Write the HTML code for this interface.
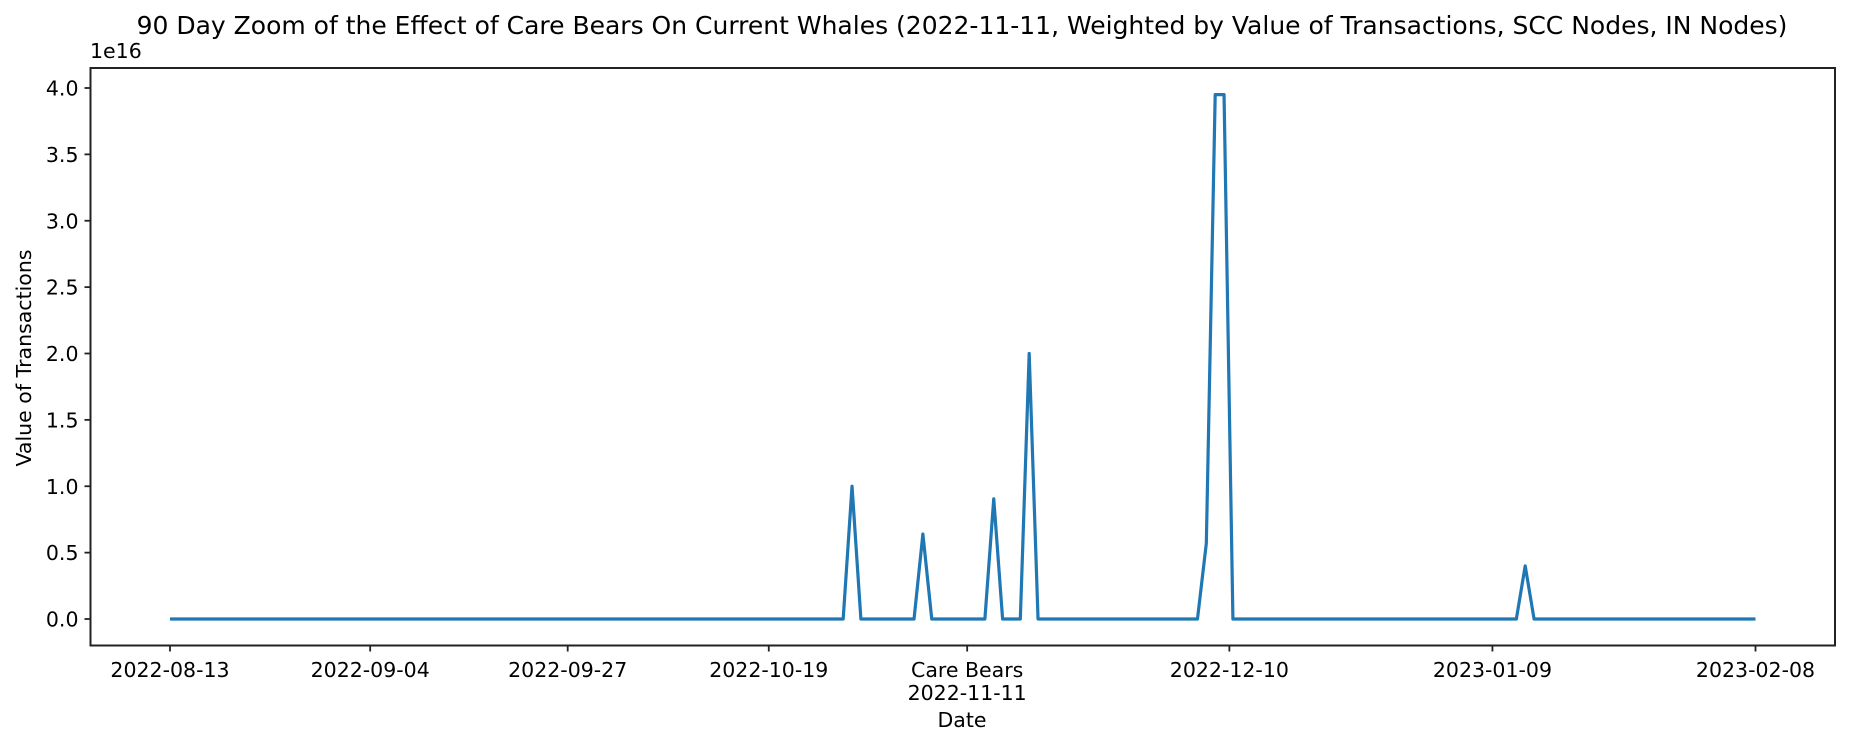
<!DOCTYPE html>
<html><head><meta charset="utf-8"><style>
html,body{margin:0;padding:0;background:#fff;}
svg{display:block;font-family:"DejaVu Sans","Liberation Sans",sans-serif;}
</style></head><body>
<svg id="chart" width="1849" height="747" viewBox="0 0 1849 747">
<text x="962" y="34" font-size="25" text-anchor="middle" fill="#000">90 Day Zoom of the Effect of Care Bears On Current Whales (2022-11-11, Weighted by Value of Transactions, SCC Nodes, IN Nodes)</text>
<text x="90" y="58" font-size="20.5" fill="#000">1e16</text>
<text transform="translate(31,358) rotate(-90)" font-size="20.5" text-anchor="middle" fill="#000">Value of Transactions</text>
<text x="962" y="727" font-size="20.5" text-anchor="middle" fill="#000">Date</text>
<g id="yticks"></g><g id="xticks"></g><g id="plot"></g>
<rect id="frame" x="90.5" y="68" width="1744.5" height="577.5" fill="none" stroke="#222" stroke-width="2"/>
</svg>
<script>
const yTicks = [0, 0.5, 1.0, 1.5, 2.0, 2.5, 3.0, 3.5, 4.0];
const yTickLabels = ["0.0","0.5","1.0","1.5","2.0","2.5","3.0","3.5","4.0"];
const xTickDays = [0, 22.6, 44.9, 67.6, 90, 119.6, 149.3, 179];
const xTickLabels = ["2022-08-13","2022-09-04","2022-09-27","2022-10-19","Care Bears|2022-11-11","2022-12-10","2023-01-09","2023-02-08"];
const numDays = 180;
const spikeDays = [77, 85, 93, 97, 117, 118, 119, 153];
const spikeValues = [1.0, 0.64, 0.905, 2.0, 0.57, 3.95, 3.95, 0.40];

const L=90.5, R=1835, T=68, B=645.5;
const NS="http://www.w3.org/2000/svg";
function xS(d){ return 170 + d*(1755.5-170)/179; }
function yS(v){ return 619 - v*(619-88)/4; }
function mk(tag, attrs, parent){ const e=document.createElementNS(NS,tag); for(const k in attrs) e.setAttribute(k,attrs[k]); parent.appendChild(e); return e; }
const yg=document.getElementById('yticks');
yTicks.forEach((v,i)=>{
  const y=yS(v);
  const t=mk('line',{x1:L-6,x2:L,y1:y,y2:y,stroke:'#222','stroke-width':1.8},yg);
  
  
  const tx=mk('text',{x:L-12,y:y+7.5,'font-size':20.5,'text-anchor':'end',fill:'#000'},yg);
  tx.textContent=yTickLabels[i];
  
  
});
const xg=document.getElementById('xticks');
xTickDays.forEach((d,i)=>{
  const x=xS(d);
  const t=mk('line',{x1:x,x2:x,y1:B,y2:B+6,stroke:'#222','stroke-width':1.8},xg);
  
  
  xTickLabels[i].split('|').forEach((s,j)=>{
    const tx=mk('text',{x:x,y:677+j*23,'font-size':20.5,'text-anchor':'middle',fill:'#000'},xg);
    tx.textContent=s;
    
    
  });
});
const vals=[];
for(let d=0; d<numDays; d++){ const k=spikeDays.indexOf(d); vals.push(k>=0?spikeValues[k]:0); }
const pts=vals.map((v,d)=>xS(d).toFixed(2)+','+yS(v).toFixed(2)).join(' ');
const pl=mk('polyline',{points:pts,fill:'none',stroke:'#1f77b4','stroke-width':3.2,'stroke-linejoin':'round'},document.getElementById('plot'));


</script>
</body></html>
